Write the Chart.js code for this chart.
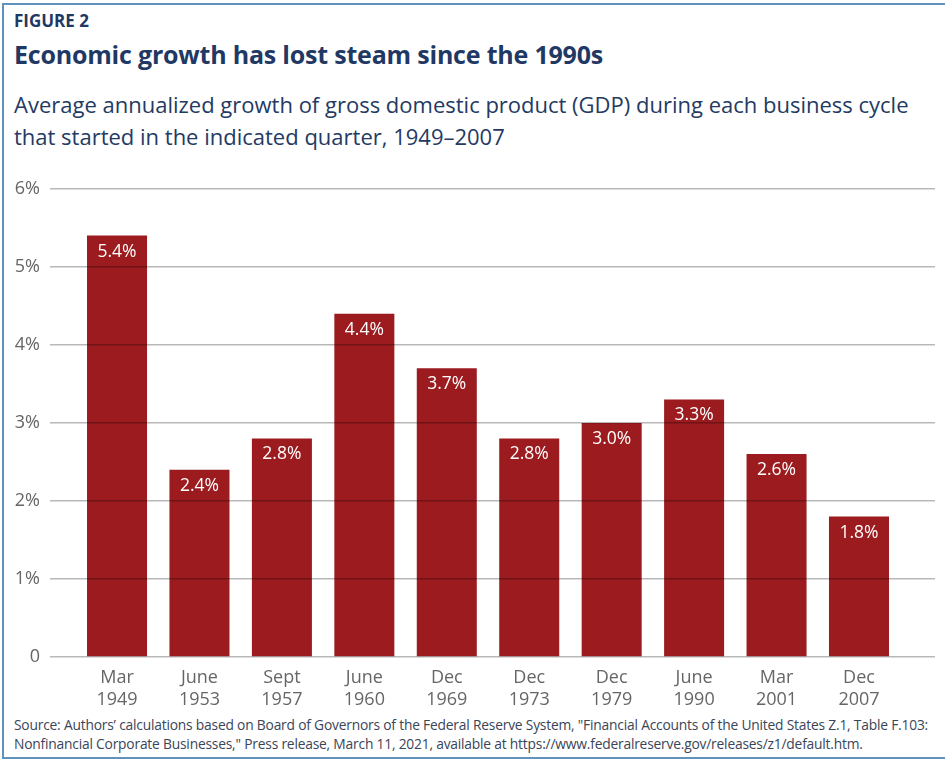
<!DOCTYPE html>
<html>
<head>
<meta charset="utf-8">
<script src="https://cdn.jsdelivr.net/npm/chart.js@4.4.1/dist/chart.umd.min.js"></script>
<style>
    body { margin: 0; width: 945px; height: 763px; background: #fff; position: relative; overflow: hidden; font-family: "Open Sans", sans-serif; }
    #frame { position: absolute; left: 2px; top: 3px; width: 960px; height: 756px; border: 2px solid #5f93bd; border-right: none; box-sizing: border-box; }
    #fig { position: absolute; left: 14px; top: 9px; font-size: 17px; font-weight: 700; color: #1f3864; }
    #title { position: absolute; left: 14px; top: 37px; font-size: 25px; font-weight: 700; color: #1f3864; letter-spacing: -0.2px; }
    #sub { position: absolute; left: 14px; top: 88px; font-size: 22px; line-height: 32px; color: #243a63; }
    #chartbox { position: absolute; left: 0; top: 168px; width: 945px; height: 547px; }
    #source { position: absolute; left: 14px; top: 715px; font-size: 13.8px; line-height: 19px; color: #3a4558; white-space: nowrap; letter-spacing: -0.2px; }
</style>
</head>
<body>
<div id="frame"></div>
<div id="fig">FIGURE 2</div>
<div id="title">Economic growth has lost steam since the 1990s</div>
<div id="sub">Average annualized growth of gross domestic product (GDP) during each business cycle<br>that started in the indicated quarter, 1949–2007</div>
<div id="chartbox"><canvas id="graph"></canvas></div>
<div id="source">Source: Authors’ calculations based on Board of Governors of the Federal Reserve System, "Financial Accounts of the United States Z.1, Table F.103:<br>Nonfinancial Corporate Businesses," Press release, March 11, 2021, available at https://www.federalreserve.gov/releases/z1/default.htm.</div>
<script>
const months = ['Mar', 'June', 'Sept', 'June', 'Dec', 'Dec', 'Dec', 'June', 'Mar', 'Dec'];
const years = ['1949', '1953', '1957', '1960', '1969', '1973', '1979', '1990', '2001', '2007'];
const growth = [5.4, 2.4, 2.8, 4.4, 3.7, 2.8, 3.0, 3.3, 2.6, 1.8];
const yTicks = [0, 1, 2, 3, 4, 5, 6];

const barColor = '#9b1b1f';
const tickFont = { family: '"Open Sans", sans-serif', size: 18 };

// white value labels inside the top of each bar
const barLabels = {
    id: 'barLabels',
    afterDraw(chart) {
        const ctx = chart.ctx;
        const meta = chart.getDatasetMeta(0);
        ctx.save();
        ctx.fillStyle = '#fff';
        ctx.font = '17.5px "Open Sans", sans-serif';
        ctx.textAlign = 'center';
        ctx.textBaseline = 'middle';
        meta.data.forEach((bar, i) => {
            ctx.fillText(growth[i].toFixed(1) + '%', bar.x, bar.y + 16);
        });
        ctx.restore();
    }
};

const ctx = document.getElementById('graph').getContext('2d');
const chart = new Chart(ctx, {
    type: 'bar',
    data: {
        datasets: [{
            data: growth.map((v, i) => ({ x: i, y: v })),
            backgroundColor: barColor,
            categoryPercentage: 1,
            barPercentage: 0.728
        }]
    },
    options: {
        responsive: true,
        maintainAspectRatio: false,
        animation: false,
        layout: { padding: { top: 15, right: 10, left: 0, bottom: 0 } },
        plugins: { legend: { display: false }, tooltip: { enabled: false } },
        scales: {
            x: {
                type: 'linear',
                offset: false,
                min: -0.813,
                max: 9.922,
                grid: { display: false },
                border: { display: false },
                afterBuildTicks: function (scale) {
                    scale.ticks = years.map((y, i) => ({ value: i }));
                },
                afterFit: function (scale) { scale.height = 58; },
                ticks: {
                    autoSkip: false,
                    maxRotation: 0,
                    padding: 2,
                    color: '#666',
                    font: tickFont,
                    callback: function (value) {
                        return [months[value], years[value]];
                    }
                }
            },
            y: {
                min: 0,
                max: 6,
                afterBuildTicks: function (scale) {
                    scale.ticks = yTicks.map(v => ({ value: v }));
                },
                afterFit: function (scale) { scale.width = 50; },
                border: { display: false },
                grid: { color: 'rgba(0,0,0,0.28)', lineWidth: 1.5, drawTicks: false, z: 1 },
                ticks: {
                    padding: 10,
                    color: '#666',
                    font: tickFont,
                    callback: function (value) {
                        return value === 0 ? '0' : value + '%';
                    }
                }
            }
        }
    },
    plugins: [barLabels]
});
</script>
</body>
</html>
